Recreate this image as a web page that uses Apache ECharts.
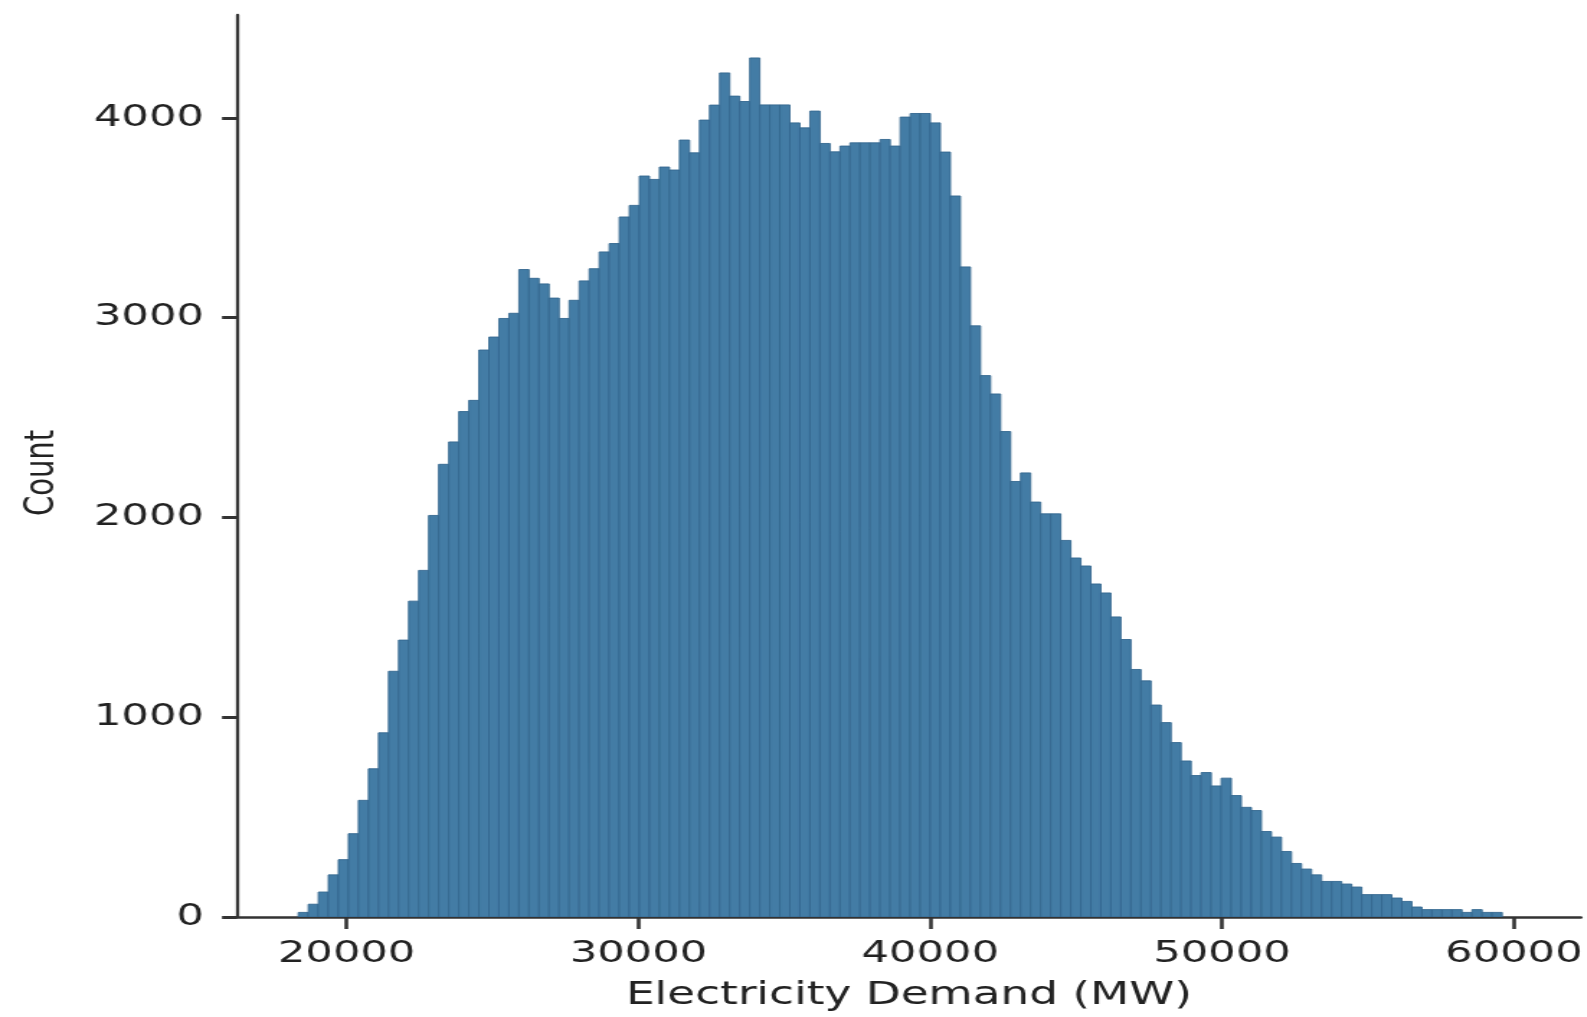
<!DOCTYPE html>
<html>
<head>
<meta charset="utf-8">
<script src="https://cdn.jsdelivr.net/npm/echarts@6/dist/echarts.min.js"></script>
<style>
  html, body { margin: 0; padding: 0; background: #ffffff; overflow: hidden; }
  #wrap { width: 1587px; height: 1017px; overflow: hidden; position: relative; }
  #chart { width: 1102.08px; height: 1017px; transform: scaleX(1.44); transform-origin: 0 0; position: absolute; left: 0; top: 0; }
</style>
</head>
<body>
<div id="wrap"><div id="chart"></div></div>
<script>
// ---- data ----
const binStart = 18343;      // left edge of first bin (MW)
const binWidth = 343.8;      // bin width (MW)
const counts = [
  23, 64, 125, 211, 287, 417, 584, 742, 922, 1230,
  1386, 1581, 1735, 2010, 2266, 2378, 2530, 2586, 2838, 2903,
  2996, 3022, 3241, 3197, 3169, 3098, 2996, 3087, 3184, 3245,
  3329, 3371, 3504, 3562, 3709, 3692, 3754, 3739, 3889, 3825,
  3989, 4064, 4225, 4109, 4082, 4300, 4065, 4065, 4065, 3975,
  3950, 4034, 3872, 3830, 3859, 3875, 3875, 3875, 3892, 3859,
  4004, 4022, 4022, 3975, 3829, 3609, 3254, 2959, 2710, 2618,
  2430, 2180, 2223, 2077, 2018, 2018, 1885, 1797, 1757, 1667,
  1622, 1502, 1389, 1239, 1182, 1061, 973, 873, 781, 708,
  723, 656, 695, 608, 549, 533, 428, 400, 328, 268,
  240, 211, 178, 178, 165, 150, 112, 112, 112, 95,
  78, 50, 37, 37, 37, 37, 23, 37, 23, 23
];
const xTicks = [20000, 30000, 40000, 50000, 60000];
const yTicks = [0, 1000, 2000, 3000, 4000];
const xLabel = 'Electricity Demand (MW)';
const yLabel = 'Count';

const bins = counts.map((c, i) => [binStart + i * binWidth, binStart + (i + 1) * binWidth, c]);

const chart = echarts.init(document.getElementById('chart'), null, { renderer: 'canvas' });
const textColor = '#222222';
const axisColor = '#333333';
const font = 'DejaVu Sans';
const plain = function (v) { return String(Math.round(v)); };

chart.setOption({
  animation: false,
  backgroundColor: '#ffffff',
  grid: { left: 164.6, right: 3.5, top: 15, bottom: 98, containLabel: false },
  xAxis: {
    type: 'value',
    min: 16244,
    max: 62293,
    name: xLabel,
    nameLocation: 'middle',
    nameGap: 63,
    nameTextStyle: { fontFamily: font, fontSize: 31.5, color: textColor },
    axisLine: { show: true, onZero: false, lineStyle: { color: axisColor, width: 2.6 } },
    axisTick: { show: true, length: 12, customValues: xTicks, lineStyle: { color: axisColor, width: 2.6 } },
    axisLabel: { customValues: xTicks, formatter: plain, fontFamily: font, fontSize: 30, color: textColor, margin: 22 },
    splitLine: { show: false }
  },
  yAxis: {
    type: 'value',
    min: 0,
    max: 4515,
    name: yLabel,
    nameLocation: 'middle',
    nameGap: 121,
    nameRotate: 90,
    nameTextStyle: { fontFamily: font, fontSize: 29, color: textColor, padding: [0, 14, 0, 0] },
    axisLine: { show: true, lineStyle: { color: axisColor, width: 2.3 } },
    axisTick: { show: true, length: 10.4, customValues: yTicks, lineStyle: { color: axisColor, width: 3 } },
    axisLabel: { customValues: yTicks, formatter: plain, fontFamily: font, fontSize: 30, color: textColor, margin: 23, padding: [5, 0, 0, 0] },
    splitLine: { show: false }
  },
  series: [{
    type: 'custom',
    clip: true,
    encode: { x: [0, 1], y: 2 },
    data: bins,
    renderItem: function (params, api) {
      const p0 = api.coord([api.value(0), api.value(2)]);
      const p1 = api.coord([api.value(1), 0]);
      return {
        type: 'rect',
        shape: { x: p0[0], y: p0[1], width: p1[0] - p0[0], height: p1[1] - p0[1] },
        style: { fill: '#437ca5', stroke: '#346890', lineWidth: 0.9 }
      };
    }
  }]
});
</script>
</body>
</html>
